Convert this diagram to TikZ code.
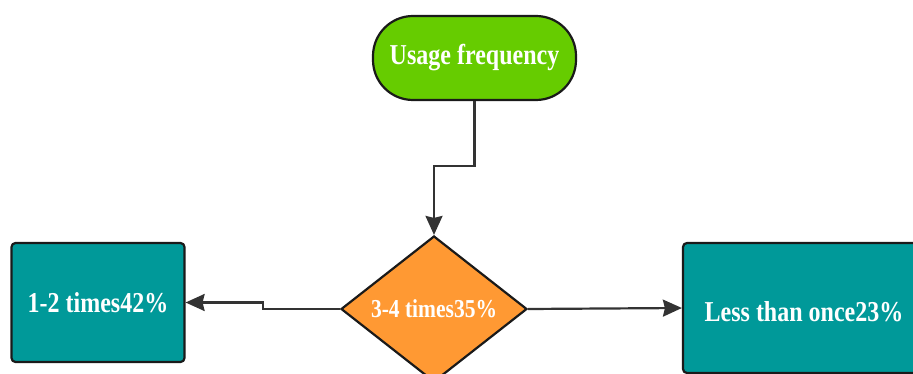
\documentclass[tikz,border=0pt]{standalone}
\usepackage{fontspec}
\usepackage{graphicx}
\setmainfont{Liberation Serif}
\usetikzlibrary{shapes.geometric,arrows.meta}
\definecolor{startgreen}{HTML}{66CC00}
\definecolor{choiceorange}{HTML}{FF9933}
\definecolor{resultteal}{HTML}{009999}
\definecolor{edgedark}{HTML}{1A1A1A}
\definecolor{linkgrey}{HTML}{333333}
\newcommand{\tallbold}[2][24pt]{\fontsize{#1}{#1}\selectfont\bfseries\scalebox{1}[1.2]{#2}}
\tikzset{
  base/.style={draw=edgedark, line width=2.2pt, text=white, inner sep=0pt, align=center},
  startbox/.style={base, fill=startgreen, rectangle, rounded corners=40pt},
  choicebox/.style={base, fill=choiceorange, diamond, aspect=1.27},
  resultbox/.style={base, fill=resultteal, rectangle, rounded corners=4pt},
  link/.style={draw=linkgrey, line width=2.2pt, -{Stealth[length=19pt,width=17pt,inset=2pt]}}
}
\begin{document}
\begin{tikzpicture}[x=1pt,y=-1pt]
  \useasboundingbox (0,0) rectangle (913,374);
  \clip (0,0) rectangle (913,374);
  \node[startbox, minimum width=203pt, minimum height=84pt] (start) at (474.5,58) {\tallbold{Usage frequency}};
  \node[choicebox, minimum width=186pt, minimum height=146pt] (choice) at (434,309) {\tallbold[21.5pt]{3-4 times35\%}};
  \node[resultbox, minimum width=173pt, minimum height=119pt] (few) at (98,302.5) {\tallbold{1-2 times42\%}};
  \node[resultbox, minimum width=242pt, minimum height=130pt] (rare) at (804,308) {\raisebox{-13pt}[0pt][0pt]{\tallbold{Less than once23\%}}};
  \coordinate (bendA) at (474.5,166);
  \coordinate (bendB) at (263,309);
  \draw[link] (start.south) -- (bendA) -- (bendA -| choice.north) -- (choice.north);
  \draw[link] (choice.west) -- (bendB) -- (bendB |- few.east) -- (few.east);
  \draw[link] (choice.east) -- (rare.west);
\end{tikzpicture}
\end{document}
